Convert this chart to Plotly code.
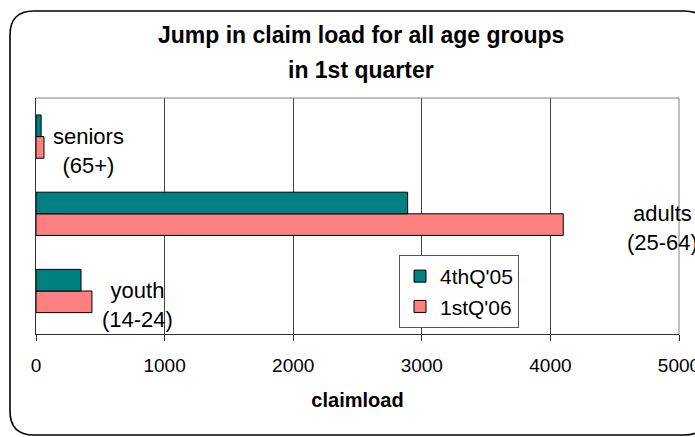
import plotly.graph_objects as go

# Claim load by age group, bottom-to-top order on the category axis
groups = ["youth", "adults", "seniors"]
group_labels = ["youth<br>(14-24)", "adults<br>(25-64)", "seniors<br>(65+)"]
label_x = [790, 4870, 405]          # where each group name sits along the claimload axis

q4_05 = [350, 2890, 40]             # 4thQ'05
q1_06 = [435, 4100, 62]             # 1stQ'06

x_ticks = [0, 1000, 2000, 3000, 4000, 5000]

FONT = "Liberation Sans, Arial, sans-serif"
TEAL = "#008080"
PINK = "#FF8080"

W, H = 695, 437
ML, MR, MT, MB = 36, 16, 98, 103
PW, PH = W - ML - MR, H - MT - MB


def px(x):
    return (x - ML) / PW


def py(y):
    return (H - MB - y) / PH


fig = go.Figure()
# pink drawn first so that the teal bar sits above it within each group
fig.add_trace(go.Bar(
    y=groups, x=q1_06, name="1stQ'06", orientation="h",
    marker=dict(color=PINK, line=dict(color="black", width=1)),
    legendrank=2,
))
fig.add_trace(go.Bar(
    y=groups, x=q4_05, name="4thQ'05", orientation="h",
    marker=dict(color=TEAL, line=dict(color="black", width=1)),
    legendrank=1,
))

# group names next to their bars
for g, lab, lx in zip(groups, group_labels, label_x):
    fig.add_annotation(
        x=lx, y=g, xref="x", yref="y", text=lab, showarrow=False,
        font=dict(family=FONT, size=22, color="black"),
        xanchor="center", yanchor="middle", yshift=-14, align="center",
    )

# two-line chart title
fig.add_annotation(
    x=px(361), y=py(35), xref="paper", yref="paper",
    text="<b>Jump in claim load for all age groups</b>", showarrow=False,
    font=dict(family=FONT, size=23, color="black"),
    xanchor="center", yanchor="middle",
)
fig.add_annotation(
    x=px(361), y=py(70), xref="paper", yref="paper",
    text="<b>in 1st quarter</b>", showarrow=False,
    font=dict(family=FONT, size=23, color="black"),
    xanchor="center", yanchor="middle",
)

# plot-area frame on the top and right sides
fig.add_shape(type="line", xref="paper", yref="paper", x0=0, x1=1, y0=1, y1=1,
              line=dict(color="#808080", width=1))
fig.add_shape(type="line", xref="paper", yref="paper", x0=1, x1=1, y0=0, y1=1,
              line=dict(color="#808080", width=1))

# rounded outer chart border
bx0, bx1, by0, by1, r = 10, 708, 11, 435, 24
path = (
    f"M {px(bx0 + r)} {py(by0)} L {px(bx1 - r)} {py(by0)} "
    f"Q {px(bx1)} {py(by0)} {px(bx1)} {py(by0 + r)} "
    f"L {px(bx1)} {py(by1 - r)} Q {px(bx1)} {py(by1)} {px(bx1 - r)} {py(by1)} "
    f"L {px(bx0 + r)} {py(by1)} Q {px(bx0)} {py(by1)} {px(bx0)} {py(by1 - r)} "
    f"L {px(bx0)} {py(by0 + r)} Q {px(bx0)} {py(by0)} {px(bx0 + r)} {py(by0)} Z"
)
fig.add_shape(type="path", xref="paper", yref="paper", path=path,
              line=dict(color="black", width=1.6), fillcolor="rgba(0,0,0,0)")

fig.update_layout(
    width=W, height=H,
    margin=dict(l=ML, r=MR, t=MT, b=MB, pad=0, autoexpand=False),
    paper_bgcolor="white", plot_bgcolor="white",
    barmode="group", bargap=0.44, bargroupgap=0,
    font=dict(family=FONT, color="black"),
    showlegend=True,
    legend=dict(
        x=px(399), y=py(255), xanchor="left", yanchor="top",
        bgcolor="white", bordercolor="#555555", borderwidth=1,
        font=dict(family=FONT, size=21, color="black"),
        traceorder="normal", itemwidth=30,
    ),
    xaxis=dict(
        range=[0, 5000], tickvals=x_ticks, ticktext=[str(v) for v in x_ticks],
        showgrid=True, gridcolor="#444444", gridwidth=1,
        showline=True, linecolor="#333333", linewidth=1,
        ticks="outside", ticklen=6, tickcolor="#333333",
        tickfont=dict(family=FONT, size=19, color="black"),
        ticklabelstandoff=8, ticklabeloverflow="allow",
        automargin=False,
        zeroline=False,
        title=dict(text="<b>claimload</b>", font=dict(family=FONT, size=20, color="black"), standoff=18),
        fixedrange=True,
    ),
    yaxis=dict(
        categoryorder="array", categoryarray=groups,
        showticklabels=False, ticks="", automargin=False,
        showline=True, linecolor="#333333", linewidth=1,
        showgrid=False, zeroline=False, fixedrange=True,
    ),
)

fig.write_html("out.html")
